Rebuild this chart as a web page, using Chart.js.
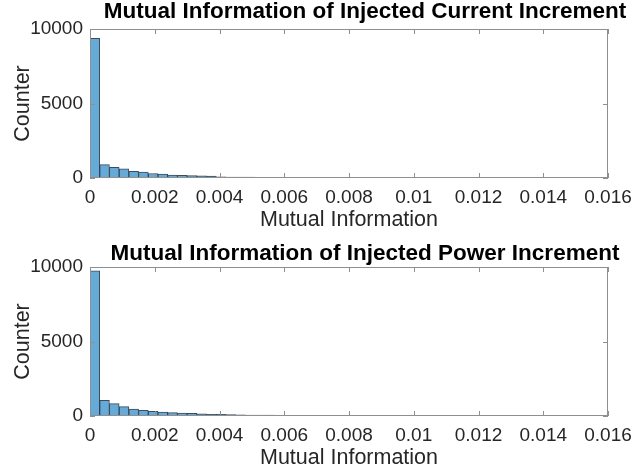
<!DOCTYPE html>
<html>
<head>
<meta charset="utf-8">
<script src="https://cdn.jsdelivr.net/npm/chart.js@4/dist/chart.umd.min.js"></script>
<style>
  body { margin: 0; background: #fff; }
  canvas { display: block; }
</style>
</head>
<body>
<canvas id="current" width="634" height="238"></canvas>
<canvas id="power" width="634" height="238"></canvas>
<script>
// histogram counts, one per bin of width BIN_WIDTH starting at 0
const BIN_WIDTH = 0.0003;
const currentCounts = [9380, 900, 720, 610, 450, 400, 300, 270, 200, 180, 160, 140, 130, 80,
    70, 60, 55, 50, 45, 40, 35, 32, 30, 28, 25, 22, 20, 18, 16, 15, 14, 12, 11, 10, 9, 8,
    8, 7, 6, 6, 5, 5, 4, 4, 3, 3, 3, 2, 2, 2, 1, 1];
const powerCounts = [9750, 1050, 830, 630, 470, 385, 315, 270, 225, 200, 180, 140, 115, 110,
    95, 85, 70, 62, 55, 50, 45, 40, 36, 32, 28, 25, 22, 20, 18, 16, 14, 13, 12, 10, 9, 8,
    7, 7, 6, 5, 5, 4, 4, 3, 3, 3, 2, 2, 2, 1, 1, 1];
const xTicks = [0, 0.002, 0.004, 0.006, 0.008, 0.01, 0.012, 0.014, 0.016];
const yTicks = [0, 5000, 10000];

const FONT = '"Liberation Sans", Arial, Helvetica, sans-serif';
const TEXT = "#262626";

// matlab style box with inward ticks, plus the bold title
const frame = {
    id: "frame",
    afterDraw(chart, args, opts) {
        const {ctx, chartArea: a, scales: {x, y}} = chart;
        ctx.save();
        ctx.strokeStyle = "#8f8f8f";
        ctx.lineWidth = 1;
        ctx.strokeRect(Math.round(a.left) + 0.5, Math.round(a.top) + 0.5,
            Math.round(a.width) - 1, Math.round(a.height) - 1);
        ctx.beginPath();
        for (const t of x.ticks) {
            const px = Math.round(x.getPixelForValue(t.value)) + 0.5;
            ctx.moveTo(px, a.bottom); ctx.lineTo(px, a.bottom - 5);
            ctx.moveTo(px, a.top); ctx.lineTo(px, a.top + 5);
        }
        for (const t of y.ticks) {
            const py = Math.round(y.getPixelForValue(t.value)) + 0.5;
            ctx.moveTo(a.left, py); ctx.lineTo(a.left + 5, py);
            ctx.moveTo(a.right, py); ctx.lineTo(a.right - 5, py);
        }
        ctx.stroke();
        ctx.fillStyle = "#000";
        ctx.font = "bold 22.5px " + FONT;
        ctx.textAlign = "center";
        ctx.textBaseline = "middle";
        ctx.fillText(opts.text, opts.cx, opts.cy);
        ctx.restore();
    }
};

function make_hist(id, counts, title, titleY) {
    const data = counts.map((c, i) => ({x: (i + 0.5) * BIN_WIDTH, y: c}));
    return new Chart(document.getElementById(id), {
        type: "bar",
        data: {
            datasets: [{
                data,
                backgroundColor: "rgb(102,170,215)",
                borderColor: "rgba(25,45,65,0.85)",
                borderWidth: 1,
                barPercentage: 1,
                categoryPercentage: 1,
                grouped: false
            }]
        },
        plugins: [frame],
        options: {
            responsive: false,
            animation: false,
            layout: {padding: {top: 29, right: 26, left: 0, bottom: 0}},
            plugins: {
                legend: {display: false},
                tooltip: {enabled: false},
                frame: {text: title, cx: 365, cy: titleY}
            },
            scales: {
                x: {
                    type: "linear",
                    offset: false,
                    min: 0,
                    max: 0.016,
                    afterBuildTicks: s => { s.ticks = xTicks.map(v => ({value: v})); },
                    afterFit: s => {
                        s.height = 60;
                        s.paddingLeft = 0;
                        s.paddingRight = 0;
                    },
                    grid: {display: false, drawTicks: false},
                    border: {display: false},
                    ticks: {
                        color: TEXT,
                        font: {family: FONT, size: 19},
                        padding: 8,
                        maxRotation: 0,
                        autoSkip: false,
                        callback: v => String(+v.toFixed(3))
                    },
                    title: {
                        display: true,
                        text: "Mutual Information",
                        color: TEXT,
                        font: {family: FONT, size: 21.5},
                        padding: {top: 0, bottom: 5}
                    }
                },
                y: {
                    min: 0,
                    max: 10000,
                    afterBuildTicks: s => { s.ticks = yTicks.map(v => ({value: v})); },
                    afterFit: s => {
                        s.width = 90;
                        s.paddingTop = 0;
                        s.paddingBottom = 0;
                    },
                    grid: {display: false, drawTicks: false},
                    border: {display: false},
                    ticks: {
                        color: TEXT,
                        font: {family: FONT, size: 19},
                        padding: 7,
                        callback: v => String(v)
                    },
                    title: {
                        display: true,
                        text: "Counter",
                        color: TEXT,
                        font: {family: FONT, size: 21.5},
                        padding: {top: 10, bottom: 0}
                    }
                }
            }
        }
    });
}

make_hist("current", currentCounts, "Mutual Information of Injected Current Increment", 12);
make_hist("power", powerCounts, "Mutual Information of Injected Power Increment", 16);
</script>
</body>
</html>
